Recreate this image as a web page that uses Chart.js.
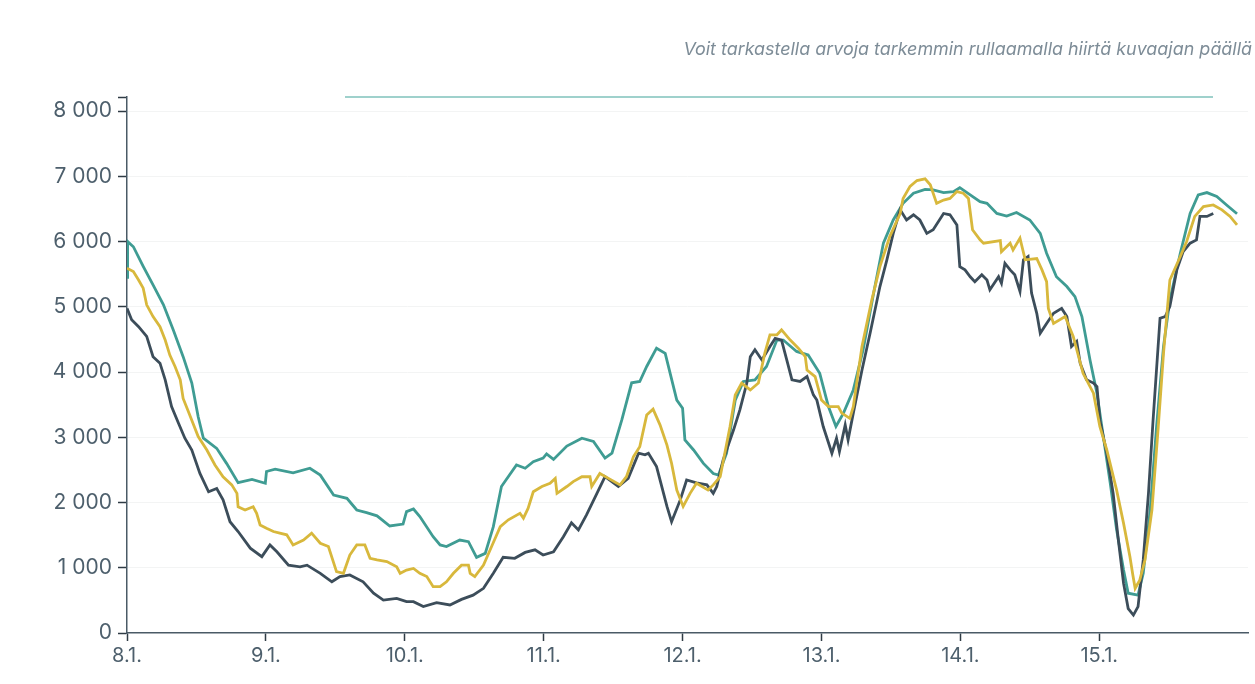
<!DOCTYPE html>
<html lang="fi">
<head>
<meta charset="utf-8">
<script src="https://cdn.jsdelivr.net/npm/chart.js@4"></script>
<style>
  html, body { margin: 0; padding: 0; background: #fff; }
  #wrap { position: relative; width: 1255px; height: 684px; }
  #hint {
    position: absolute; right: 3px; top: 38px;
    font: italic 17.9px "Inter", "Open Sans", sans-serif;
    color: #7d8c97; white-space: nowrap;
  }
  #brush { position: absolute; left: 345px; top: 96px; width: 868px; height: 2px; background: #9fd1cc; }
</style>
</head>
<body>
<div id="wrap">
  <canvas id="chart" width="1255" height="684"></canvas>
  <div id="hint">Voit tarkastella arvoja tarkemmin rullaamalla hiirtä kuvaajan päällä</div>
  <div id="brush"></div>
</div>
<script>
// x values are hours from 8.1. 00:00
const dayLabels = ['8.1.', '9.1.', '10.1.', '11.1.', '12.1.', '13.1.', '14.1.', '15.1.'];
const dayTicks = [0, 24, 48, 72, 96, 120, 144, 168];
const yTicks = [0, 1000, 2000, 3000, 4000, 5000, 6000, 7000, 8000];

const tealHours = [0, 0.1, 1.1, 2.8, 4.5, 6.3, 8.0, 9.7, 11.2, 12.3, 13.2, 15.5, 17.2, 19.2, 21.6, 23.9, 24.1, 25.6, 28.7, 31.6, 33.4, 35.7, 38.0, 39.7, 41.4, 43.2, 45.4, 47.7, 48.3, 49.5, 50.6, 52.9, 54.1, 55.2, 57.5, 59.0, 60.4, 61.9, 63.3, 64.7, 67.3, 68.8, 70.2, 71.9, 72.5, 73.7, 76.0, 78.6, 80.6, 82.6, 83.8, 85.5, 87.2, 88.6, 89.8, 91.5, 93.0, 95.0, 96.0, 96.4, 97.9, 99.6, 101.3, 102.2, 103.6, 105.1, 106.5, 108.5, 110.5, 112.3, 113.4, 115.7, 117.7, 119.7, 121.2, 122.5, 123.8, 125.5, 127.2, 129.0, 130.7, 132.4, 134.1, 135.9, 137.9, 139.3, 141.1, 142.8, 143.9, 145.7, 147.4, 148.6, 150.3, 152.0, 153.7, 156.0, 157.8, 158.9, 160.6, 162.4, 163.8, 165.0, 166.4, 167.6, 168.7, 169.9, 171.0, 172.2, 173.0, 174.7, 175.6, 176.8, 177.9, 179.1, 180.2, 182.0, 183.7, 185.1, 186.6, 188.3, 190.0, 191.8];
const tealValues = [5450, 6000, 5920, 5620, 5335, 5030, 4645, 4235, 3830, 3315, 2985, 2830, 2600, 2305, 2355, 2295, 2475, 2510, 2455, 2525, 2420, 2115, 2065, 1885, 1845, 1795, 1640, 1670, 1860, 1900, 1785, 1475, 1350, 1325, 1425, 1400, 1160, 1220, 1630, 2245, 2575, 2525, 2625, 2680, 2745, 2660, 2865, 2985, 2935, 2680, 2755, 3265, 3835, 3855, 4085, 4365, 4285, 3570, 3445, 2960, 2805, 2600, 2445, 2420, 2755, 3570, 3855, 3880, 4085, 4490, 4490, 4315, 4260, 3980, 3470, 3165, 3370, 3725, 4340, 5205, 5975, 6330, 6585, 6740, 6800, 6790, 6750, 6765, 6825, 6715, 6610, 6585, 6430, 6390, 6445, 6330, 6125, 5820, 5460, 5310, 5155, 4850, 4185, 3675, 3010, 2295, 1580, 965, 610, 580, 915, 1885, 3165, 4390, 5105, 5820, 6430, 6715, 6750, 6690, 6560, 6425];

const yellowHours = [0, 1.1, 2.0, 2.8, 3.4, 4.5, 5.7, 6.6, 7.4, 8.3, 9.2, 9.7, 10.6, 11.5, 12.3, 13.8, 15.2, 16.6, 18.1, 19.0, 19.2, 20.4, 21.8, 22.4, 23.0, 24.1, 25.3, 26.4, 27.6, 28.7, 30.5, 31.9, 33.4, 34.8, 36.2, 37.4, 38.5, 39.7, 41.1, 42.0, 43.2, 44.9, 46.6, 47.2, 48.3, 49.5, 50.6, 51.8, 52.9, 54.1, 55.2, 56.4, 57.8, 59.0, 59.3, 60.1, 61.6, 63.0, 64.5, 65.9, 67.9, 68.5, 69.3, 70.2, 71.7, 73.1, 74.0, 74.3, 76.0, 77.1, 78.6, 80.0, 80.3, 81.7, 83.2, 85.2, 86.3, 87.5, 88.6, 89.8, 90.9, 92.1, 93.3, 94.1, 95.0, 96.1, 97.3, 98.4, 100.4, 101.3, 102.5, 104.2, 105.1, 106.2, 107.7, 109.1, 110.2, 111.1, 112.3, 113.1, 114.6, 116.0, 117.2, 117.5, 118.9, 120.0, 121.2, 122.9, 123.5, 124.9, 125.5, 127.0, 128.7, 130.1, 131.8, 133.6, 134.1, 135.3, 136.5, 137.9, 138.8, 139.9, 141.1, 142.2, 143.4, 144.5, 145.4, 146.1, 147.4, 148.0, 150.9, 151.1, 152.6, 153.1, 154.3, 155.2, 157.2, 158.1, 158.9, 159.2, 160.1, 162.1, 163.5, 165.2, 167.0, 168.1, 169.3, 171.0, 172.2, 173.3, 173.8, 174.2, 175.0, 175.9, 177.1, 178.2, 179.1, 180.2, 182.0, 183.1, 184.5, 186.0, 187.7, 189.2, 190.6, 191.8];
const yellowValues = [5590, 5540, 5410, 5285, 5030, 4850, 4695, 4490, 4260, 4085, 3880, 3595, 3395, 3190, 3010, 2805, 2575, 2395, 2270, 2140, 1935, 1885, 1935, 1835, 1655, 1605, 1555, 1530, 1505, 1350, 1425, 1530, 1375, 1325, 940, 915, 1195, 1350, 1350, 1145, 1120, 1095, 1015, 915, 965, 990, 915, 865, 710, 710, 785, 915, 1040, 1040, 915, 865, 1040, 1325, 1630, 1735, 1835, 1760, 1910, 2165, 2245, 2295, 2370, 2140, 2245, 2320, 2395, 2395, 2245, 2445, 2370, 2270, 2395, 2700, 2855, 3340, 3430, 3190, 2880, 2600, 2190, 1940, 2140, 2295, 2190, 2270, 2395, 3165, 3650, 3830, 3725, 3830, 4285, 4570, 4570, 4645, 4490, 4365, 4235, 4030, 3930, 3570, 3470, 3470, 3370, 3290, 3470, 4390, 5105, 5615, 6075, 6430, 6660, 6845, 6935, 6960, 6870, 6585, 6635, 6660, 6765, 6740, 6660, 6180, 6025, 5975, 6015, 5845, 5975, 5870, 6050, 5720, 5740, 5565, 5385, 4975, 4745, 4850, 4545, 3980, 3675, 3165, 2805, 2190, 1680, 1170, 890, 685, 810, 1120, 1885, 3165, 4285, 5410, 5770, 6000, 6385, 6535, 6560, 6485, 6385, 6255];

const darkHours = [0, 0.8, 2.0, 3.4, 4.5, 5.7, 6.6, 7.7, 8.9, 10.0, 11.2, 12.6, 14.1, 15.5, 16.6, 17.8, 19.2, 21.3, 23.3, 24.7, 25.9, 27.9, 29.9, 31.1, 33.4, 35.4, 36.8, 38.5, 40.8, 42.6, 44.3, 46.6, 48.3, 49.5, 51.2, 53.5, 55.8, 57.8, 59.8, 61.6, 63.3, 65.0, 67.0, 68.8, 70.5, 71.9, 73.7, 75.4, 76.8, 78.0, 79.4, 81.2, 82.6, 84.9, 86.6, 88.4, 89.5, 90.1, 91.5, 93.3, 94.1, 95.6, 96.7, 98.4, 100.2, 101.3, 101.9, 103.0, 104.8, 105.9, 107.1, 107.7, 108.5, 109.7, 111.1, 112.0, 113.1, 114.0, 114.9, 116.3, 117.5, 118.6, 119.2, 120.3, 121.8, 122.6, 123.1, 124.1, 124.6, 125.5, 127.0, 128.4, 130.1, 131.3, 132.4, 133.6, 134.0, 134.7, 135.9, 137.0, 138.2, 139.3, 141.1, 142.2, 143.4, 143.9, 144.8, 145.7, 146.5, 147.7, 148.6, 149.1, 150.6, 151.1, 151.7, 152.6, 153.4, 154.3, 154.9, 155.7, 156.3, 157.2, 157.8, 158.9, 160.1, 161.5, 162.4, 163.2, 164.1, 164.7, 165.8, 167.0, 167.6, 168.1, 169.3, 170.4, 171.3, 172.2, 173.0, 173.9, 174.7, 175.6, 176.5, 177.3, 178.5, 179.4, 180.2, 181.4, 182.5, 183.7, 184.8, 185.4, 186.6, 187.7];
const darkValues = [4975, 4800, 4695, 4545, 4235, 4135, 3880, 3470, 3215, 2985, 2805, 2445, 2165, 2215, 2040, 1705, 1555, 1300, 1170, 1350, 1245, 1040, 1015, 1040, 915, 785, 865, 890, 785, 610, 505, 530, 480, 480, 405, 465, 430, 515, 580, 685, 915, 1160, 1145, 1235, 1275, 1195, 1245, 1475, 1690, 1580, 1810, 2140, 2395, 2245, 2370, 2755, 2730, 2755, 2550, 1940, 1705, 2040, 2345, 2300, 2270, 2140, 2245, 2650, 3110, 3420, 3830, 4235, 4340, 4185, 4390, 4515, 4490, 4185, 3880, 3855, 3930, 3650, 3570, 3165, 2755, 2985, 2780, 3190, 2960, 3370, 4030, 4595, 5310, 5720, 6125, 6485, 6430, 6330, 6410, 6330, 6125, 6180, 6430, 6410, 6255, 5615, 5565, 5460, 5385, 5490, 5410, 5260, 5460, 5360, 5665, 5565, 5490, 5235, 5720, 5770, 5210, 4900, 4595, 4745, 4900, 4975, 4850, 4390, 4470, 4135, 3880, 3830, 3775, 3265, 2755, 2140, 1425, 760, 375, 275, 405, 1120, 2140, 3265, 4825, 4850, 5005, 5565, 5845, 5975, 6025, 6385, 6385, 6430];

const axisColor = '#4a5a66';
const textColor = '#4d5f6c';

function points(hours, values) {
  return hours.map((h, i) => ({ x: h, y: values[i] }));
}

function fmt(v) {
  return String(v).replace(/\B(?=(\d{3})+(?!\d))/g, ' ');
}

const ctx = document.getElementById('chart').getContext('2d');
new Chart(ctx, {
  type: 'line',
  data: {
    datasets: [
      { data: points(tealHours, tealValues), borderColor: '#3f9c93', borderWidth: 2.8, pointRadius: 0, tension: 0, order: 3 },
      { data: points(darkHours, darkValues), borderColor: '#3c4d5a', borderWidth: 2.8, pointRadius: 0, tension: 0, order: 2 },
      { data: points(yellowHours, yellowValues), borderColor: '#d8b83c', borderWidth: 2.8, pointRadius: 0, tension: 0, order: 1 }
    ]
  },
  options: {
    responsive: false,
    animation: false,
    layout: { padding: { top: 97, right: 7, bottom: 0, left: 0 } },
    plugins: { legend: { display: false }, tooltip: { enabled: false } },
    scales: {
      x: {
        type: 'linear',
        min: 0,
        max: 193.7,
        afterFit: s => { s.height = 51; },
        afterBuildTicks: s => { s.ticks = dayTicks.map(v => ({ value: v })); },
        ticks: {
          autoSkip: false,
          maxRotation: 0,
          padding: 3,
          color: textColor,
          font: { family: 'Inter, "Open Sans", sans-serif', size: 20 },
          callback: v => dayLabels[dayTicks.indexOf(v)]
        },
        grid: { drawOnChartArea: false, tickLength: 8, tickColor: '#2f3b44', tickWidth: 1.5 },
        border: { color: axisColor, width: 1.5 }
      },
      y: {
        min: 0,
        max: 8215,
        afterFit: s => { s.width = 127; },
        afterBuildTicks: s => { s.ticks = yTicks.concat([8215]).map(v => ({ value: v })); },
        ticks: {
          padding: 6,
          color: textColor,
          font: { family: 'Inter, "Open Sans", sans-serif', size: 21 },
          callback: v => (yTicks.includes(v) ? fmt(v) : '')
        },
        grid: {
          color: c => (c.tick && c.tick.value > 0 && c.tick.value <= 8000 ? '#f3f4f4' : 'rgba(0,0,0,0)'),
          tickLength: 9,
          tickColor: '#2f3b44',
          tickWidth: 1.5
        },
        border: { color: axisColor, width: 1.5 }
      }
    }
  }
});
</script>
</body>
</html>
